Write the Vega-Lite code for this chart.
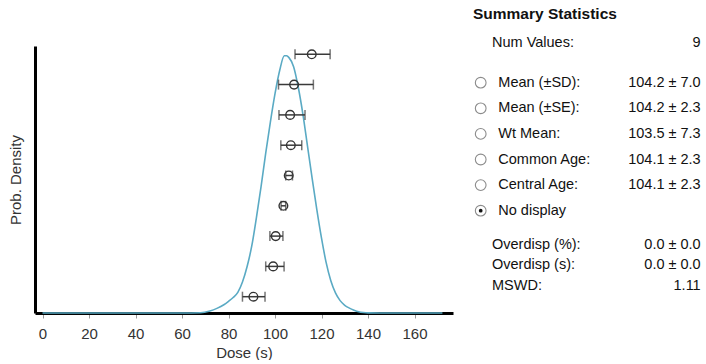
{
  "$schema": "https://vega.github.io/schema/vega-lite/v6.json",
  "padding": {"left": 8, "top": 0, "right": 5, "bottom": 0},
  "background": "white",
  "spacing": 17,
  "config": {
    "view": {"stroke": null},
    "font": "Liberation Sans",
    "axis": {"grid": false}
  },
  "datasets": {
    "density": [
      {"dose": 0, "f": 0}, {"dose": 60, "f": 0}, {"dose": 68, "f": 0.001}, {"dose": 72, "f": 0.008},
      {"dose": 75, "f": 0.018}, {"dose": 78, "f": 0.032}, {"dose": 80, "f": 0.045}, {"dose": 82, "f": 0.06},
      {"dose": 84, "f": 0.08}, {"dose": 86, "f": 0.12}, {"dose": 88, "f": 0.18}, {"dose": 90, "f": 0.26},
      {"dose": 92, "f": 0.37}, {"dose": 94, "f": 0.49}, {"dose": 96, "f": 0.62}, {"dose": 98, "f": 0.74},
      {"dose": 100, "f": 0.85}, {"dose": 102, "f": 0.94}, {"dose": 104, "f": 0.997}, {"dose": 105, "f": 0.997},
      {"dose": 106, "f": 0.99}, {"dose": 108, "f": 0.955}, {"dose": 110, "f": 0.875}, {"dose": 112, "f": 0.77},
      {"dose": 114, "f": 0.645}, {"dose": 116, "f": 0.52}, {"dose": 118, "f": 0.4}, {"dose": 120, "f": 0.29},
      {"dose": 122, "f": 0.195}, {"dose": 124, "f": 0.125}, {"dose": 126, "f": 0.078}, {"dose": 128, "f": 0.048},
      {"dose": 130, "f": 0.03}, {"dose": 132, "f": 0.019}, {"dose": 134, "f": 0.011}, {"dose": 136, "f": 0.005},
      {"dose": 138, "f": 0.002}, {"dose": 140, "f": 0.0005}, {"dose": 145, "f": 0}, {"dose": 172, "f": 0}
    ],
    "aliquots": [
      {"rank": 9, "dose": 115.8, "lo": 108.6, "hi": 123.7},
      {"rank": 8, "dose": 108.2, "lo": 101.5, "hi": 116.5},
      {"rank": 7, "dose": 106.5, "lo": 101.7, "hi": 112.9},
      {"rank": 6, "dose": 106.8, "lo": 102.5, "hi": 111.5},
      {"rank": 5, "dose": 105.9, "lo": 104.6, "hi": 107.5},
      {"rank": 4, "dose": 103.6, "lo": 102.6, "hi": 104.6},
      {"rank": 3, "dose": 100.3, "lo": 97.8, "hi": 103.4},
      {"rank": 2, "dose": 99.2, "lo": 96.0, "hi": 103.9},
      {"rank": 1, "dose": 90.7, "lo": 86.0, "hi": 95.7}
    ],
    "stats": [
      {"i": 0, "kind": "header", "label": "Summary Statistics"},
      {"i": 1, "kind": "stat", "label": "Num Values:", "value": "9"},
      {"i": 2, "kind": "option", "label": "Mean (±SD):", "value": "104.2 ± 7.0", "selected": false},
      {"i": 3, "kind": "option", "label": "Mean (±SE):", "value": "104.2 ± 2.3", "selected": false},
      {"i": 4, "kind": "option", "label": "Wt Mean:", "value": "103.5 ± 7.3", "selected": false},
      {"i": 5, "kind": "option", "label": "Common Age:", "value": "104.1 ± 2.3", "selected": false},
      {"i": 6, "kind": "option", "label": "Central Age:", "value": "104.1 ± 2.3", "selected": false},
      {"i": 7, "kind": "option", "label": "No display", "selected": true},
      {"i": 8, "kind": "stat", "label": "Overdisp (%):", "value": "0.0 ± 0.0"},
      {"i": 9, "kind": "stat", "label": "Overdisp (s):", "value": "0.0 ± 0.0"},
      {"i": 10, "kind": "stat", "label": "MSWD:", "value": "1.11"}
    ]
  },
  "hconcat": [
    {
      "width": 418,
      "height": 313,
      "resolve": {"scale": {"y": "independent"}},
      "layer": [
        {
          "data": {"name": "density"},
          "mark": {"type": "line", "color": "#5aaac4", "strokeWidth": 1.6, "interpolate": "monotone"},
          "encoding": {
            "x": {
              "field": "dose", "type": "quantitative",
              "scale": {"domain": [-3.23, 176.55], "zero": false, "nice": false},
              "axis": {
                "title": "Dose (s)", "values": [0, 20, 40, 60, 80, 100, 120, 140, 160],
                "domainColor": "#000000", "domainWidth": 3,
                "tickColor": "#9a9a9a", "tickSize": 5, "tickWidth": 1,
                "labelFont": "Liberation Sans", "labelFontSize": 15, "labelColor": "#333333", "labelPadding": 8,
                "titleFont": "Liberation Sans", "titleFontSize": 15, "titleFontWeight": "normal", "titleColor": "#333333", "titlePadding": 4
              }
            },
            "y": {
              "field": "f", "type": "quantitative",
              "scale": {"domain": [0, 1.035], "range": [313, 46], "zero": true, "nice": false},
              "axis": {
                "title": "Prob. Density", "labels": false, "ticks": false,
                "domainColor": "#000000", "domainWidth": 3,
                "titleFont": "Liberation Sans", "titleFontSize": 15, "titleFontWeight": "normal", "titleColor": "#333333", "titlePadding": 12
              }
            }
          }
        },
        {
          "data": {"name": "aliquots"},
          "encoding": {
            "y": {"field": "rank", "type": "quantitative", "scale": {"domain": [0.462, 9.274], "range": [313, 46], "zero": false, "nice": false}, "axis": null}
          },
          "layer": [
            {
              "mark": {"type": "rule", "color": "#3a3a3a", "strokeWidth": 1.5},
              "encoding": {"x": {"field": "lo", "type": "quantitative"}, "x2": {"field": "hi"}}
            },
            {
              "mark": {"type": "tick", "orient": "vertical", "size": 10, "thickness": 1.5, "color": "#3a3a3a"},
              "encoding": {"x": {"field": "lo", "type": "quantitative"}}
            },
            {
              "mark": {"type": "tick", "orient": "vertical", "size": 10, "thickness": 1.5, "color": "#3a3a3a"},
              "encoding": {"x": {"field": "hi", "type": "quantitative"}}
            },
            {
              "mark": {"type": "point", "filled": false, "size": 75, "strokeWidth": 1.4, "color": "#333333", "opacity": 1},
              "encoding": {"x": {"field": "dose", "type": "quantitative"}}
            }
          ]
        }
      ]
    },
    {
      "width": 230.7,
      "height": 300,
      "data": {"name": "stats"},
      "encoding": {
        "y": {"field": "i", "type": "quantitative", "scale": {"domain": [0, 1, 2, 7, 8, 10], "range": [14, 42.5, 82.7, 210.7, 244.5, 286], "zero": false, "nice": false}, "axis": null}
      },
      "layer": [
        {
          "transform": [{"filter": "datum.kind === 'header'"}],
          "mark": {"type": "text", "align": "left", "baseline": "middle", "font": "Liberation Sans", "fontSize": 15.5, "fontWeight": "bold", "color": "#111111"},
          "encoding": {
            "x": {"datum": 0, "type": "quantitative", "scale": {"domain": [0, 1, 2, 3, 4], "range": [3, 10.7, 22, 28.3, 230.7], "zero": false, "nice": false}, "axis": null},
            "text": {"field": "label"}
          }
        },
        {
          "transform": [{"filter": "datum.kind === 'stat'"}],
          "mark": {"type": "text", "align": "left", "baseline": "middle", "font": "Liberation Sans", "fontSize": 14.5, "color": "#111111"},
          "encoding": {
            "x": {"datum": 2, "type": "quantitative"},
            "text": {"field": "label"}
          }
        },
        {
          "transform": [{"filter": "datum.kind === 'option'"}],
          "mark": {"type": "text", "align": "left", "baseline": "middle", "font": "Liberation Sans", "fontSize": 14.5, "color": "#111111"},
          "encoding": {
            "x": {"datum": 3, "type": "quantitative"},
            "text": {"field": "label"}
          }
        },
        {
          "transform": [{"filter": "datum.kind === 'option'"}],
          "mark": {"type": "point", "shape": "circle", "size": 115, "filled": true, "fill": "#ffffff", "stroke": "#8c8c8c", "strokeWidth": 1.1, "opacity": 1},
          "encoding": {
            "x": {"datum": 1, "type": "quantitative"}
          }
        },
        {
          "transform": [{"filter": "datum.selected === true"}],
          "mark": {"type": "point", "shape": "circle", "size": 14, "filled": true, "color": "#111111", "opacity": 1},
          "encoding": {
            "x": {"datum": 1, "type": "quantitative"}
          }
        },
        {
          "transform": [{"filter": "datum.value"}],
          "mark": {"type": "text", "align": "right", "baseline": "middle", "font": "Liberation Sans", "fontSize": 14.5, "color": "#111111"},
          "encoding": {
            "x": {"datum": 4, "type": "quantitative"},
            "text": {"field": "value"}
          }
        }
      ]
    }
  ]
}
